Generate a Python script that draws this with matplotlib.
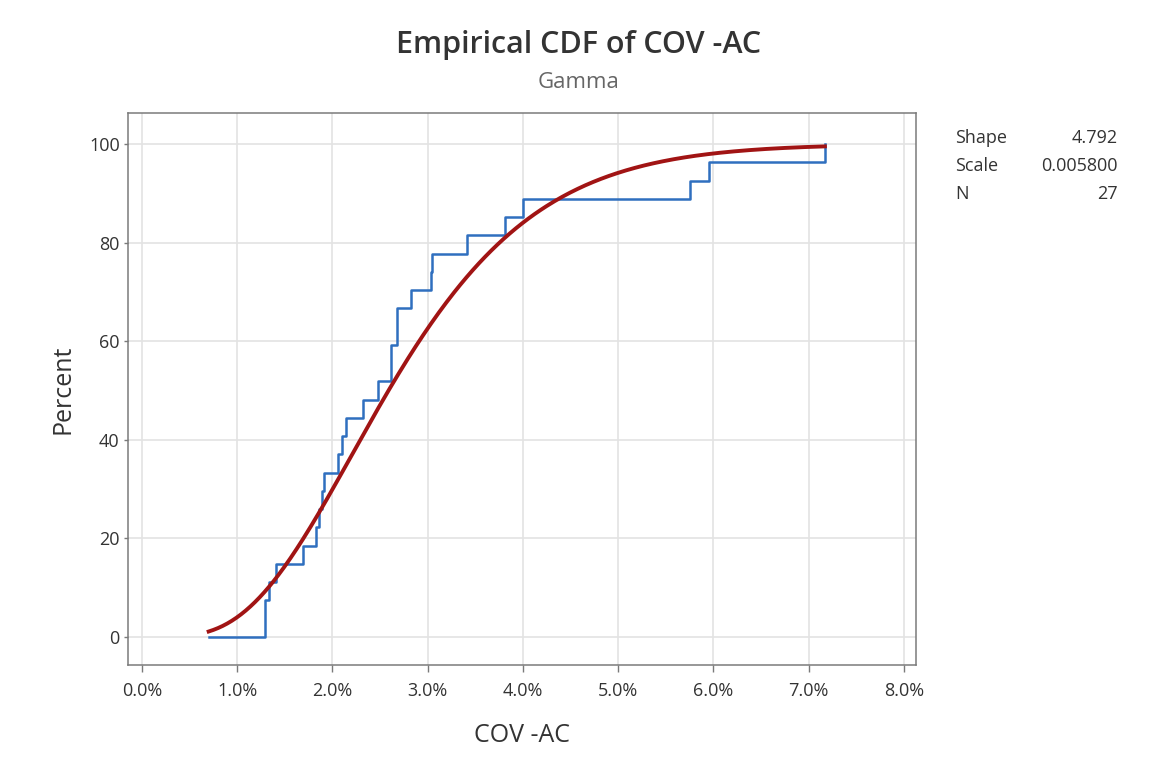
import math
import numpy as np
import matplotlib
matplotlib.use("Agg")
import matplotlib.pyplot as plt
from matplotlib.ticker import FuncFormatter

plt.rcParams['font.family'] = ['Open Sans', 'DejaVu Sans']

# Observed COV -AC values (fractions), sorted
cov_ac = [0.0129, 0.0129, 0.0133, 0.0141, 0.0169, 0.0183, 0.0186, 0.0189,
          0.01915, 0.0206, 0.02105, 0.0214, 0.0232, 0.0248, 0.0261, 0.0261,
          0.0268, 0.0268, 0.0282, 0.0303, 0.03045, 0.0341, 0.0381, 0.0400,
          0.0575, 0.0595, 0.0717]

# Fitted gamma parameters
shape = 4.792
scale = 0.005800
n_obs = 27
curve_start = 0.007

x_ticks = [0.0, 0.01, 0.02, 0.03, 0.04, 0.05, 0.06, 0.07, 0.08]
y_ticks = [0, 20, 40, 60, 80, 100]


def gamma_cdf(x, a, theta):
    """Regularized lower incomplete gamma via its power series."""
    out = []
    for xv in np.atleast_1d(x):
        z = xv / theta
        if z <= 0:
            out.append(0.0)
            continue
        term = 1.0 / a
        total = term
        k = 1
        while k < 500:
            term *= z / (a + k)
            total += term
            if term < total * 1e-14:
                break
            k += 1
        out.append(math.exp(a * math.log(z) - z - math.lgamma(a)) * total)
    return np.array(out)


data = np.sort(np.array(cov_ac))
ecdf_pct = 100.0 * np.arange(1, len(data) + 1) / len(data)
step_x = np.concatenate([[curve_start], data])
step_y = np.concatenate([[0.0], ecdf_pct])

xs = np.linspace(curve_start, data.max(), 400)
ys = 100.0 * gamma_cdf(xs, shape, scale)

fig = plt.figure(figsize=(11.51, 7.70), dpi=100)
ax = fig.add_axes([0.1112, 0.1364, 0.6846, 0.7168])

ax.step(step_x, step_y, where='post', color='#2f6fbf', lw=1.8, zorder=3)
ax.plot(xs, ys, color='#a11414', lw=2.8, zorder=4)

ax.set_xlim(-0.00147, 0.08126)
ax.set_ylim(-5.7, 106.3)
ax.set_xticks(x_ticks)
ax.set_yticks(y_ticks)
ax.xaxis.set_major_formatter(FuncFormatter(lambda v, p: f"{v * 100:.1f}%"))

ax.grid(True, color='#e3e3e3', lw=1.2, zorder=0)
ax.set_axisbelow(True)
for sp in ax.spines.values():
    sp.set_color('#7a7a7a')
    sp.set_linewidth(1.1)
ax.tick_params(axis='both', direction='out', width=1.0,
               color='#7a7a7a', labelcolor='#333333', labelsize=13)
ax.tick_params(axis='x', length=5, pad=7)
ax.tick_params(axis='y', length=3, pad=3)

ax.set_xlabel('COV -AC', fontsize=18, color='#333333', labelpad=17)
ax.set_ylabel('Percent', fontsize=18, color='#333333', labelpad=10)

fig.text(0.503, 1 - 45 / 770, 'Empirical CDF of COV -AC', ha='center', va='center',
         fontsize=22, fontweight='semibold', color='#333333')
fig.text(0.503, 1 - 82 / 770, 'Gamma', ha='center', va='center',
         fontsize=16, color='#666666')

# Parameter table
rows = [('Shape', f"{shape:.3f}"), ('Scale', f"{scale:.6f}"), ('N', f"{n_obs}")]
for i, (lab, val) in enumerate(rows):
    yy = 1 - (138 + 28 * i) / 770
    fig.text(955 / 1151, yy, lab, ha='left', va='center', fontsize=13, color='#333333')
    fig.text(1118 / 1151, yy, val, ha='right', va='center', fontsize=13, color='#333333')

fig.savefig('out.png', dpi=100, facecolor='white')
